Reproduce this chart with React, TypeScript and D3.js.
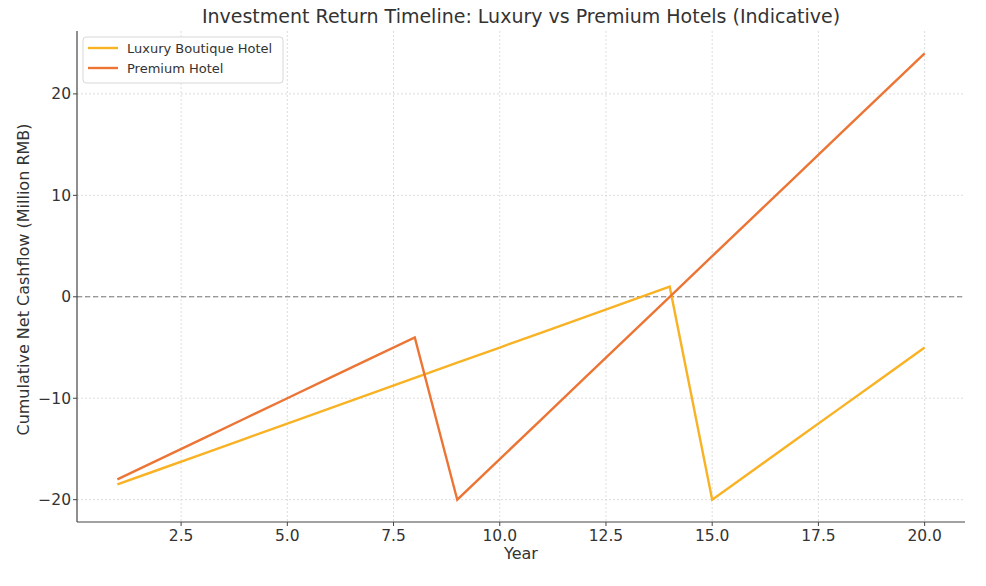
import React from "react";
import * as d3 from "d3";

const years = [1, 2, 3, 4, 5, 6, 7, 8, 9, 10, 11, 12, 13, 14, 15, 16, 17, 18, 19, 20];
const luxury = [-18.5, -17, -15.5, -14, -12.5, -11, -9.5, -8, -6.5, -5, -3.5, -2, -0.5, 1, -20, -17, -14, -11, -8, -5];
const premium = [-18, -16, -14, -12, -10, -8, -6, -4, -20, -16, -12, -8, -4, 0, 4, 8, 12, 16, 20, 24];
const seriesNames = ["Luxury Boutique Hotel", "Premium Hotel"];
const seriesColors = ["#F9B224", "#EC7535"];
const xTicks = [2.5, 5, 7.5, 10, 12.5, 15, 17.5, 20];
const yTicks = [-20, -10, 0, 10, 20];

export default function App() {
  const W = 986, H = 586;
  const L = 77, R = 965, T = 31, B = 522;
  const x = d3.scaleLinear().domain([0.05, 20.95]).range([L, R]);
  const y = d3.scaleLinear().domain([-22.2, 26.2]).range([B, T]);
  const line = d3.line<number>().x((_, i) => x(years[i])).y((d) => y(d));
  const font = "'DejaVu Sans', sans-serif";
  const txt = "#333";
  const series = [luxury, premium];
  return (
    <svg width={W} height={H} style={{ position: "absolute", left: 0, top: 0, background: "#fff" }} fontFamily={font}>
      <rect x={0} y={0} width={W} height={H} fill="#fff" />
      {xTicks.map((t) => (
        <line key={"gx" + t} x1={x(t)} x2={x(t)} y1={T} y2={B} stroke="#d4d4d4" strokeWidth={0.8} strokeDasharray="2,2" />
      ))}
      {yTicks.map((t) => (
        <line key={"gy" + t} x1={L} x2={R} y1={y(t)} y2={y(t)} stroke="#d4d4d4" strokeWidth={0.8} strokeDasharray="2,2" />
      ))}
      <line x1={L} x2={R} y1={y(0)} y2={y(0)} stroke="#777" strokeWidth={1} strokeDasharray="5,3" />
      {series.map((s, i) => (
        <path key={i} d={line(s) || ""} fill="none" stroke={seriesColors[i]} strokeWidth={2.4} strokeLinejoin="miter" />
      ))}
      <line x1={L} x2={L} y1={T} y2={B} stroke="#444" strokeWidth={1.2} />
      <line x1={L} x2={R} y1={B} y2={B} stroke="#444" strokeWidth={1.2} />
      {xTicks.map((t) => (
        <g key={"tx" + t}>
          <line x1={x(t)} x2={x(t)} y1={B} y2={B + 4} stroke="#444" />
          <text x={x(t)} y={B + 19} textAnchor="middle" fontSize={15.5} fill={txt}>{t.toFixed(1)}</text>
        </g>
      ))}
      {yTicks.map((t) => (
        <g key={"ty" + t}>
          <line x1={L - 4} x2={L} y1={y(t)} y2={y(t)} stroke="#444" />
          <text x={L - 6} y={y(t) + 5.5} textAnchor="end" fontSize={15.5} fill={txt}>{t < 0 ? "\u2212" + Math.abs(t) : t}</text>
        </g>
      ))}
      <text x={(L + R) / 2} y={559} textAnchor="middle" fontSize={16} fill={txt}>Year</text>
      <text transform={`translate(29,${(T + B) / 2 + 3}) rotate(-90)`} textAnchor="middle" fontSize={16} fill={txt}>Cumulative Net Cashflow (Million RMB)</text>
      <text x={(L + R) / 2} y={23} textAnchor="middle" fontSize={19} fill={txt}>Investment Return Timeline: Luxury vs Premium Hotels (Indicative)</text>
      <g>
        <rect x={83} y={37} width={200} height={46} rx={3} fill="#fff" fillOpacity={0.85} stroke="#d8d8d8" />
        {seriesNames.map((n, i) => (
          <g key={n}>
            <line x1={88} x2={118} y1={48 + i * 20} y2={48 + i * 20} stroke={seriesColors[i]} strokeWidth={2.4} />
            <text x={127} y={53 + i * 20} fontSize={13} fill={txt}>{n}</text>
          </g>
        ))}
      </g>
    </svg>
  );
}
